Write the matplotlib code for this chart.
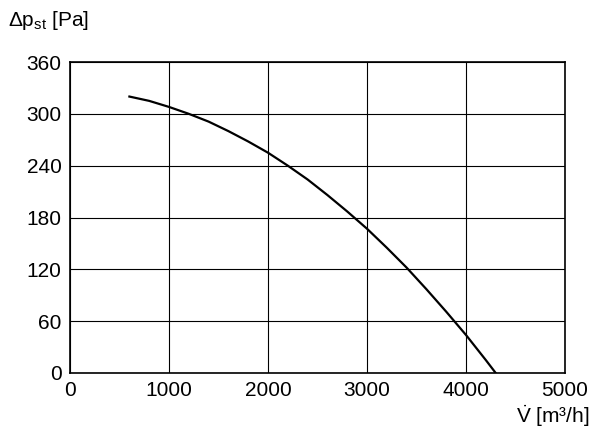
import numpy as np
import matplotlib.pyplot as plt

plt.rcParams['font.family'] = ['Liberation Sans Narrow', 'Liberation Sans', 'DejaVu Sans']
plt.rcParams['mathtext.fontset'] = 'custom'
plt.rcParams['mathtext.rm'] = 'Liberation Sans'

# fan curve
flow = [600, 800, 1000, 1200, 1400, 1600, 1800, 2000, 2200, 2400, 2600, 2800,
        3000, 3200, 3400, 3600, 3800, 4000, 4200, 4300]
pressure = [320, 315, 308, 300, 291, 280, 268, 255, 240, 224, 206, 187,
            167, 145, 122, 97, 71, 44, 15, 0]

x_ticks = [0, 1000, 2000, 3000, 4000, 5000]
y_ticks = [0, 60, 120, 180, 240, 300, 360]

fig = plt.figure(figsize=(6, 4.38), dpi=100)
ax = fig.add_axes([70/600, 1 - 373/438, 495/600, 311/438])

ax.plot(flow, pressure, color='black', lw=1.6)
ax.set_xlim(0, 5000)
ax.set_ylim(0, 360)
ax.set_xticks(x_ticks)
ax.set_yticks(y_ticks)
ax.grid(True, color='black', lw=0.8)
for s in ax.spines.values():
    s.set_linewidth(1.2)
ax.tick_params(length=0, labelsize=15, pad=6)

fig.text(8/600, 1 - 20/438, 'Δp$_{\\mathrm{st}}$ [Pa]', fontsize=15, va='center')
fig.text(590/600, 1 - 416/438, '$\\dot{\\mathrm{V}}$ [m³/h]', fontsize=15, va='center', ha='right')

fig.savefig('out.png', dpi=100)
